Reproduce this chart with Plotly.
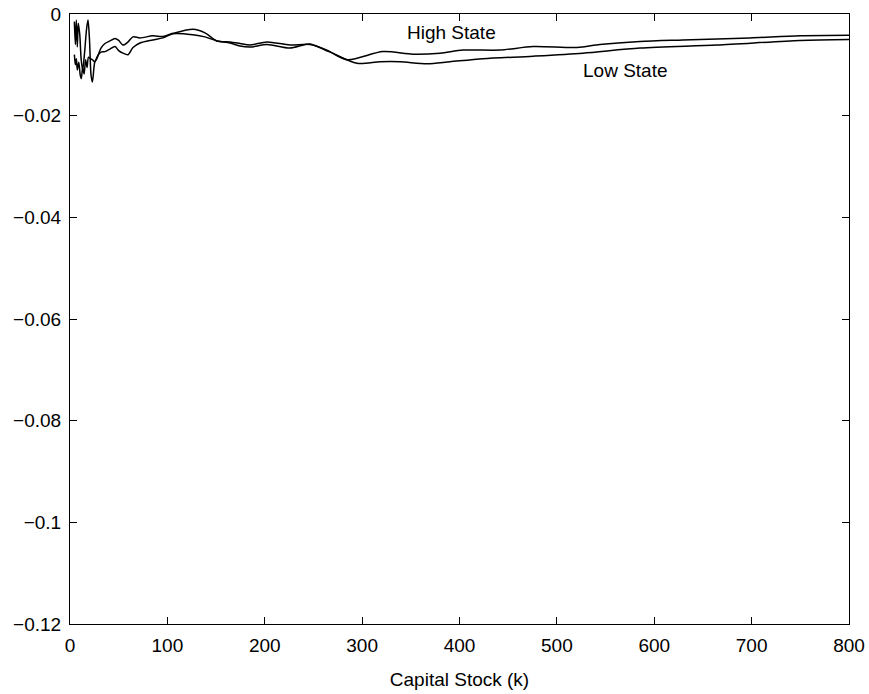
import plotly.graph_objects as go

# High State curve (upper at right)
high_k = [4.5, 5.5, 6.5, 7.5, 8.5, 10, 11.5, 13, 15, 17, 18.5, 20, 21.6, 23, 25.4, 27, 28.8,
          31.8, 35.9, 41, 46.2, 50, 54.4, 59.6, 64.7, 71.9, 85, 95.5, 105.8, 126.3, 138.6,
          151, 164.3, 174.6, 184.8, 202.3, 225.9, 246.4, 263.9, 284.5, 321.4, 352.2, 380,
          403.6, 441.6, 475.5, 520.7, 544.3, 585.4, 629.5, 698.3, 749.7, 800]
high_v = [-0.0015, -0.0060, -0.0012, -0.0065, -0.0018, -0.0040, -0.0090, -0.0110, -0.0075,
          -0.0030, -0.0012, -0.0050, -0.0120, -0.0134, -0.0095, -0.0090, -0.0082,
          -0.0067, -0.0058, -0.0053, -0.0048, -0.0052, -0.0061, -0.0055, -0.0045, -0.0047,
          -0.0043, -0.0044, -0.0038, -0.0030, -0.0037, -0.0053, -0.0055, -0.0058, -0.0061,
          -0.0055, -0.0061, -0.0060, -0.0071, -0.0090, -0.0074, -0.0079, -0.0077,
          -0.0071, -0.0071, -0.0064, -0.0066, -0.0060, -0.0054, -0.0051, -0.0047, -0.0043, -0.0042]

# Low State curve (lower at right)
low_k = [4.5, 5.5, 6.5, 7.5, 9, 10.5, 11.6, 13, 14.5, 16, 17.5, 19, 21, 23, 25.4, 27, 28.8,
         31.8, 35.9, 41, 46.2, 50, 54.4, 59.6, 64.7, 71.9, 85, 95.5, 105.8, 126.3, 138.6,
         151, 164.3, 174.6, 184.8, 202.3, 225.9, 246.4, 265.9, 294.7, 318.4, 339, 366.6,
         390.2, 424.1, 475.5, 526.8, 585.4, 664.4, 749.7, 800]
low_v = [-0.0080, -0.0100, -0.0088, -0.0110, -0.0095, -0.0120, -0.0127, -0.0105, -0.0118,
         -0.0090, -0.0105, -0.0085, -0.0088, -0.0090, -0.0094, -0.0088, -0.0081,
         -0.0075, -0.0074, -0.0069, -0.0064, -0.0072, -0.0077, -0.0080, -0.0066, -0.0057,
         -0.0051, -0.0047, -0.0039, -0.0041, -0.0045, -0.0053, -0.0057, -0.0063, -0.0065,
         -0.0060, -0.0067, -0.0059, -0.0074, -0.0097, -0.0094, -0.0094, -0.0098,
         -0.0094, -0.0088, -0.0083, -0.0077, -0.0067, -0.0061, -0.0052, -0.0050]

x_ticks = [0, 100, 200, 300, 400, 500, 600, 700, 800]
y_ticks = [0, -0.02, -0.04, -0.06, -0.08, -0.1, -0.12]
y_tick_text = ["0", "\u22120.02", "\u22120.04", "\u22120.06", "\u22120.08", "\u22120.1", "\u22120.12"]

labels = ["High State", "Low State"]
label_k = [392, 570]
label_v = [-0.00354, -0.0112]

FONT = "Liberation Sans, Arial, Helvetica, sans-serif"

fig = go.Figure()
for k, v in [(high_k, high_v), (low_k, low_v)]:
    fig.add_trace(go.Scatter(x=k, y=v, mode="lines",
                             line=dict(color="black", width=1.5, shape="spline", smoothing=0.8),
                             showlegend=False, hoverinfo="skip"))

for t, k, v in zip(labels, label_k, label_v):
    fig.add_annotation(x=k, y=v, text=t, showarrow=False,
                       font=dict(family=FONT, size=19, color="black"))

axis_common = dict(showline=True, linecolor="black", linewidth=1, mirror="ticks",
                   ticks="inside", ticklen=7, tickcolor="black", tickwidth=1,
                   showgrid=False, zeroline=False, automargin=False,
                   ticklabeloverflow="allow",
                   tickfont=dict(family=FONT, size=19, color="black"))

fig.update_xaxes(range=[0, 800], tickvals=x_ticks, ticktext=[str(t) for t in x_ticks],
                 ticklabelstandoff=4,
                 title=dict(text="Capital Stock (k)", font=dict(family=FONT, size=19, color="black"),
                            standoff=17),
                 **axis_common)
fig.update_yaxes(range=[-0.12, 0], tickvals=y_ticks, ticktext=y_tick_text,
                 ticklabelstandoff=4, **axis_common)

fig.update_layout(width=869, height=694, margin=dict(l=70, r=20, t=14, b=70, pad=0),
                  plot_bgcolor="white", paper_bgcolor="white",
                  font=dict(family=FONT, color="black"))

fig.write_html("out.html")
